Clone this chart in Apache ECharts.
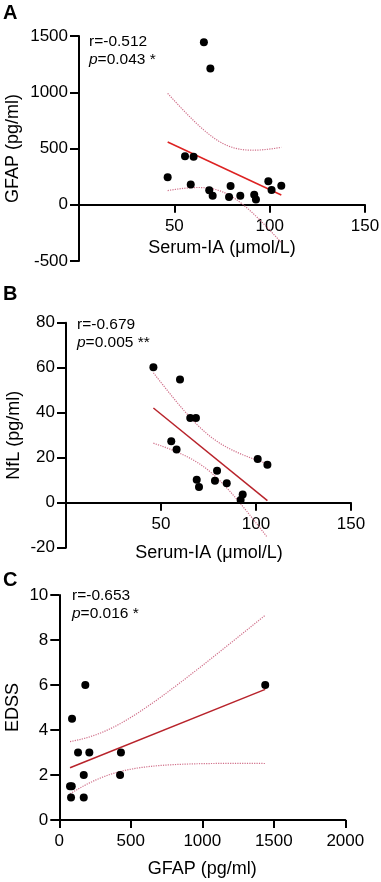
<!DOCTYPE html>
<html>
<head>
<meta charset="utf-8">
<script src="https://cdn.jsdelivr.net/npm/echarts@6/dist/echarts.min.js"></script>
<style>
  html, body { margin: 0; padding: 0; background: #fff; }
  #main { width: 381px; height: 882px; }
</style>
</head>
<body>
<div id="main"></div>
<script>
// A: GFAP vs serum IA
var gfapIA  = [46.5, 55.6, 58.6, 60.1, 65.5, 68.3, 68.9, 70.1, 78.7, 79.5, 84.6, 91.9, 92.8, 99.3, 101.0, 106.1];
var gfapVal = [244, 431, 179, 426, 1444, 128, 1212, 80, 69, 167, 80, 89, 47, 208, 131, 170];
// B: NfL vs serum IA
var nflIA  = [46.0, 55.4, 58.2, 60.0, 65.4, 68.4, 68.8, 70.0, 78.4, 79.5, 84.6, 91.9, 93.0, 100.9, 106.0];
var nflVal = [60.2, 27.3, 23.6, 54.8, 37.6, 37.6, 10.2, 7.0, 9.8, 14.2, 8.6, 1.2, 3.7, 19.4, 16.9];
// C: EDSS vs GFAP
var edssGfap = [75, 87, 82, 89, 131, 171, 171, 182, 210, 425, 431, 1440];
var edssVal  = [1.5, 1.5, 1.0, 4.5, 3.0, 2.0, 1.0, 6.0, 3.0, 2.0, 3.0, 6.0];

var statA = ['r=-0.512', '0.043 *'];
var statB = ['r=-0.679', '0.005 **'];
var statC = ['r=-0.653', '0.016 *'];

var iaName = 'Serum-IA (\u03bcmol/L)';

// t(0.975, df)
var tTable = {10: 2.2281, 13: 2.1604, 14: 2.1448};

var FONT = 'Liberation Sans, Arial, sans-serif';

// least squares line + 95% confidence band
function fit(xs, ys) {
    var n = xs.length, mx = 0, my = 0;
    for (var i = 0; i < n; i++) { mx += xs[i]; my += ys[i]; }
    mx /= n; my /= n;
    var sxx = 0, sxy = 0, syy = 0;
    for (i = 0; i < n; i++) {
        sxx += (xs[i] - mx) * (xs[i] - mx);
        sxy += (xs[i] - mx) * (ys[i] - my);
        syy += (ys[i] - my) * (ys[i] - my);
    }
    var b = sxy / sxx, a = my - b * mx;
    var s = Math.sqrt((syy - b * sxy) / (n - 2));
    var t = tTable[n - 2];
    var x0 = Math.min.apply(null, xs), x1 = Math.max.apply(null, xs);
    var up = [], lo = [];
    for (i = 0; i <= 60; i++) {
        var x = x0 + (x1 - x0) * i / 60;
        var yh = a + b * x;
        var h = t * s * Math.sqrt(1 / n + (x - mx) * (x - mx) / sxx);
        up.push([x, yh + h]);
        lo.push([x, yh - h]);
    }
    return { line: [[x0, a + b * x0], [x1, a + b * x1]], up: up, lo: lo };
}

function pairs(xs, ys) {
    return xs.map(function (x, i) { return [x, ys[i]]; });
}

function plain(v) { return String(v); }

function xAx(idx, max, interval, name, gap, showMin, visible) {
    return {
        type: 'value', gridIndex: idx, min: 0, max: max, interval: interval, show: visible,
        name: name, nameLocation: 'middle', nameGap: gap, nameMoveOverlap: false,
        nameTextStyle: { fontSize: 18, color: '#000', fontFamily: FONT },
        axisLine: { onZero: false, lineStyle: { color: '#000', width: 2 } },
        axisTick: { length: 8, lineStyle: { color: '#000', width: 2 } },
        axisLabel: { fontSize: 17, color: '#000', fontFamily: FONT, margin: 13, showMinLabel: showMin, formatter: plain },
        splitLine: { show: false }
    };
}

function yAx(idx, min, max, interval, name, gap, visible) {
    return {
        type: 'value', gridIndex: idx, min: min, max: max, interval: interval, show: visible,
        name: name, nameLocation: 'middle', nameGap: gap, nameMoveOverlap: false,
        nameTextStyle: { fontSize: 18, color: '#000', fontFamily: FONT },
        axisLine: { show: true, onZero: false, lineStyle: { color: '#000', width: 2 } },
        axisTick: { show: true, length: 9, lineStyle: { color: '#000', width: 2 } },
        axisLabel: { fontSize: 17, color: '#000', fontFamily: FONT, margin: 11, formatter: plain },
        splitLine: { show: false }
    };
}

function panelSeries(idx, xs, ys, lineColor) {
    var f = fit(xs, ys);
    var band = { color: '#d0708a', width: 1.2, type: 'dotted' };
    return [
        { type: 'line', xAxisIndex: idx, yAxisIndex: idx, data: f.up, showSymbol: false, lineStyle: band, z: 2, silent: true },
        { type: 'line', xAxisIndex: idx, yAxisIndex: idx, data: f.lo, showSymbol: false, lineStyle: band, z: 2, silent: true },
        { type: 'line', xAxisIndex: idx, yAxisIndex: idx, data: f.line, showSymbol: false, lineStyle: { color: lineColor, width: 1.5 }, z: 3, silent: true },
        { type: 'scatter', xAxisIndex: idx, yAxisIndex: idx, data: pairs(xs, ys), symbolSize: 8, itemStyle: { color: '#000', opacity: 1 }, z: 4 }
    ];
}

function label(txt, x, y) {
    return { type: 'text', left: x, top: y, style: { text: txt, fontSize: 20, fontWeight: 'bold', fontFamily: FONT, fill: '#000' } };
}

// x-axis title for panels whose axis sits on y=0
function axisTitle(txt, cx, cy) {
    return { type: 'text', x: cx, y: cy, style: { text: txt, fontSize: 18, fontFamily: FONT, fill: '#000', align: 'center', verticalAlign: 'middle' } };
}

function stat(s, x, y) {
    return {
        type: 'text', left: x, top: y,
        style: {
            text: s[0] + '\n{i|p}=' + s[1],
            fontSize: 15.5, lineHeight: 18.5, fontFamily: FONT, fill: '#000',
            rich: { i: { fontStyle: 'italic', fontSize: 15.5, fontFamily: FONT, fill: '#000' } }
        }
    };
}

var chart = echarts.init(document.getElementById('main'), null, { renderer: 'canvas' });

var gridBase = { outerBoundsMode: 'none', containLabel: false };
var option = {
    backgroundColor: '#fff',
    animation: false,
    grid: [
        Object.assign({ left: 79, top: 36, width: 286, height: 225 }, gridBase),
        Object.assign({ left: 66, top: 322.7, width: 285, height: 225 }, gridBase),
        Object.assign({ left: 59.3, top: 595, width: 286, height: 225 }, gridBase),
        // upper parts of A and B: their bottom edge is y=0, where the x axis is drawn
        Object.assign({ left: 79, top: 36, width: 286, height: 168.75 }, gridBase),
        Object.assign({ left: 66, top: 322.7, width: 285, height: 180 }, gridBase)
    ],
    xAxis: [
        xAx(0, 150, 50, '', 30, false, false),
        xAx(1, 150, 50, '', 30, false, false),
        xAx(2, 2000, 500, 'GFAP (pg/ml)', 40, true, true),
        xAx(3, 150, 50, '', 30, false, true),
        xAx(4, 150, 50, '', 30, false, true)
    ],
    yAxis: [
        yAx(0, -500, 1500, 500, 'GFAP (pg/ml)', 57, true),
        yAx(1, -20, 80, 20, 'NfL (pg/ml)', 43, true),
        yAx(2, 0, 10, 2, 'EDSS', 37, true),
        yAx(3, 0, 1500, 500, '', 30, false),
        yAx(4, 0, 80, 20, '', 30, false)
    ],
    series: []
        .concat(panelSeries(0, gfapIA, gfapVal, '#dd2222'))
        .concat(panelSeries(1, nflIA, nflVal, '#b8232b'))
        .concat(panelSeries(2, edssGfap, edssVal, '#b8232b')),
    graphic: [
        label('A', 3, 3),
        label('B', 3, 284),
        label('C', 3, 570),
        axisTitle(iaName, 222, 248),
        axisTitle(iaName, 209, 553),
        stat(statA, 89, 32),
        stat(statB, 77, 315),
        stat(statC, 72, 586)
    ]
};

chart.setOption(option);
</script>
</body>
</html>
